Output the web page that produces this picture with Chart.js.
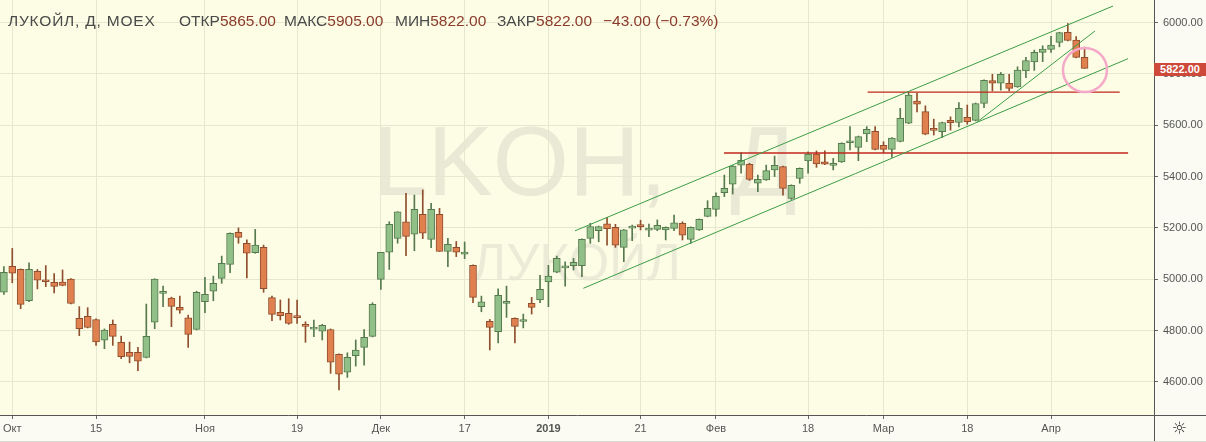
<!DOCTYPE html>
<html><head><meta charset="utf-8">
<script src="https://cdn.jsdelivr.net/npm/chart.js@4.4.1/dist/chart.umd.min.js"></script>
<style>
html,body{margin:0;padding:0;background:#fbfbf3;}
#wrap{position:relative;width:1206px;height:442px;overflow:hidden;background:#fbfbf3;font-family:"Liberation Sans",Arial,sans-serif;}
#plotbg{position:absolute;left:0;top:0;width:1154px;height:415px;background:#fdfde5;}
.wm{position:absolute;white-space:nowrap;font-family:"Liberation Sans",Arial,sans-serif;line-height:1;}
#wm1{left:373px;top:112px;font-size:98px;color:#e9e9d5;word-spacing:36px;}
#wm2{left:472px;top:236px;font-size:52px;color:#ebebd8;}
#c{position:absolute;left:0;top:0;}
.lg{position:absolute;top:12px;font-size:15.5px;line-height:18px;white-space:nowrap;color:#4a4a4a;}
.v{color:#8b3a2b;}
#tag{position:absolute;left:1154px;top:63px;width:52px;height:13px;background:#cd4a3b;color:#fff;font-size:11px;font-weight:bold;line-height:13px;text-align:center;}
.sep{position:absolute;background:#555;}
#gear{position:absolute;left:1172px;top:418px;font-size:17px;line-height:20px;color:#333;font-family:"DejaVu Sans",sans-serif;}
</style>
</head>
<body>
<div id="wrap">
  <div id="plotbg"></div>
  <div class="wm" id="wm1">LKOH, Д</div>
  <div class="wm" id="wm2">ЛУКОЙЛ</div>
  <canvas id="c" width="1206" height="442"></canvas>
  <div class="lg" style="left:8px;letter-spacing:0.8px">ЛУКОЙЛ, Д, MOEX</div>
  <div class="lg" style="left:179px">ОТКР<span class="v">5865.00</span></div>
  <div class="lg" style="left:284px">МАКС<span class="v">5905.00</span></div>
  <div class="lg" style="left:395px">МИН<span class="v">5822.00</span></div>
  <div class="lg" style="left:497px">ЗАКР<span class="v">5822.00</span></div>
  <div class="lg v" style="left:603px">−43.00 (−0.73%)</div>
  <div id="tag">5822.00</div>
  <div class="sep" style="left:1154px;top:415px;width:52px;height:1px"></div>
  <div class="sep" style="left:1154px;top:415px;width:1px;height:27px"></div>
  <div class="sep" style="left:0;top:441px;width:1206px;height:1px;background:#d8d8d0"></div>
  <div id="gear">☼</div>
</div>
<script>
// Daily OHLC, bar index 0 = 28 Sep 2018 ... 129 = 5 Apr 2019
const openP = [4949,5050,5038,4916,5031,4996,4988,4989,5000,4847,
4855,4843,4762,4824,4754,4715,4715,4695,4832,4945,
4926,4890,4849,4804,4912,4953,5003,5058,5183,5140,
5103,5124,4928,4871,4867,4855,4824,4805,4797,4804,
4707,4637,4702,4734,4777,4999,5105,5159,5224,5176,
5253,5155,5253,5108,5124,5098,5054,4893,4836,4795,
4906,4847,4835,4906,4919,4989,5027,5044,5053,5053,
5159,5189,5216,5202,5124,5199,5210,5191,5194,5192,
5198,5218,5155,5192,5245,5272,5337,5370,5445,5448,
5374,5387,5426,5439,5315,5393,5461,5488,5458,5444,
5457,5532,5514,5566,5576,5522,5506,5537,5608,5694,
5653,5588,5575,5619,5611,5631,5619,5685,5774,5764,
5764,5750,5812,5847,5884,5896,5923,5962,5932,5865];
const highP = [5049,5120,5040,5064,5038,5053,5022,5036,5002,4893,
4889,4845,4806,4841,4778,4755,4734,4903,5002,4973,
4930,4934,4860,4953,5007,5012,5090,5181,5200,5153,
5194,5133,4934,4919,4924,4919,4834,4841,4824,4806,
4709,4713,4763,4804,4908,5105,5224,5263,5335,5328,
5348,5296,5276,5159,5147,5145,5056,4934,4843,4962,
4973,4849,4864,4929,5015,5054,5090,5068,5081,5157,
5218,5207,5241,5214,5194,5211,5230,5215,5231,5204,
5250,5224,5204,5235,5306,5337,5406,5443,5493,5452,
5406,5445,5480,5441,5368,5434,5497,5500,5500,5471,
5532,5595,5558,5595,5595,5536,5552,5666,5727,5726,
5676,5624,5613,5633,5689,5679,5687,5777,5799,5806,
5799,5828,5865,5893,5910,5947,5963,5997,5946,5905];
const lowP = [4941,4986,4885,4912,4962,4971,4946,4974,4904,4780,
4810,4742,4729,4742,4690,4674,4643,4693,4807,4893,
4815,4867,4734,4802,4869,4916,4984,5025,5140,5005,
5101,4949,4838,4841,4824,4828,4754,4776,4763,4633,
4568,4617,4661,4665,4775,4960,5038,5140,5092,5111,
5158,5123,5108,5049,5088,5080,4908,4873,4724,4752,
4851,4752,4810,4864,4908,4893,5025,4973,5036,5010,
5140,5146,5133,5124,5068,5150,5192,5166,5189,5153,
5189,5153,5140,5190,5243,5246,5322,5332,5413,5385,
5341,5385,5400,5328,5311,5374,5413,5436,5446,5426,
5455,5504,5462,5536,5504,5493,5475,5535,5606,5652,
5563,5562,5552,5581,5594,5604,5617,5669,5734,5737,
5734,5748,5786,5814,5848,5884,5906,5929,5863,5822];
const closeP = [5027,5023,4902,5038,4996,4990,4972,4976,4906,4807,
4812,4755,4802,4777,4698,4699,4680,4777,5000,4950,
4894,4879,4785,4949,4941,4984,5062,5179,5163,5101,
5133,4963,4863,4858,4828,4850,4816,4808,4820,4676,
4630,4695,4724,4773,4902,5105,5214,5263,5167,5272,
5179,5272,5108,5136,5105,5106,4929,4912,4812,4937,
4914,4816,4838,4890,4960,5012,5081,5047,5066,5155,
5205,5205,5197,5133,5192,5202,5205,5193,5210,5202,
5220,5172,5202,5233,5276,5323,5354,5441,5463,5389,
5389,5423,5444,5354,5366,5432,5488,5449,5448,5452,
5530,5537,5556,5584,5506,5506,5550,5627,5718,5682,
5565,5580,5611,5610,5666,5614,5685,5775,5764,5799,
5744,5815,5852,5884,5897,5913,5961,5931,5865,5822];

// Time axis: bar index of each labelled date and its text
const xTickIdx    = [1, 11, 24, 35, 45, 55, 65, 76, 85, 96, 105, 115, 125];
const xTickLabels = ['Окт','15','Ноя','19','Дек','17','2019','21','Фев','18','Мар','18','Апр'];
const yTickValues = [4600, 4800, 5000, 5200, 5400, 5600, 5800, 6000];

// Drawings in data coordinates [barIndex, price]
const channelUpper = [[68.17, 5188.6], [132.4, 6065]];
const channelLower = [[69.17, 4964.5], [134.19, 5859.7]];
const steepLine    = [[116.13, 5611.7], [130.25, 5967.7]];
const levelHigh    = [[103.1, 5729], [133.2, 5729]];
const levelLow     = [[85.96, 5492], [134.2, 5492]];
const markPoint    = [[129.05, 5815.6]];

const UP_FILL = '#90bf87', UP_LINE = '#567a4e';
const DN_FILL = '#e0804f', DN_LINE = '#8f4e2d';
const isUp = i => closeP[i] >= openP[i];
const idx = openP.map((_, i) => i);
const toXY = arr => arr.map(p => ({x: p[0], y: p[1]}));

const lineDs = (pts, color, w) => ({
  type: 'line', data: toXY(pts), borderColor: color, borderWidth: w,
  pointRadius: 0, fill: false, order: 1, tension: 0
});
const noPad = s => { s.paddingTop = 0; s.paddingBottom = 0; s.paddingLeft = 0; s.paddingRight = 0; };

new Chart(document.getElementById('c'), {
  type: 'bar',
  data: {
    datasets: [
      {
        label: 'wicks', grouped: false, order: 5,
        data: idx.map(i => ({x: i, y: [lowP[i], highP[i]]})),
        backgroundColor: idx.map(i => isUp(i) ? UP_LINE : DN_LINE),
        barThickness: 1, borderWidth: 0
      },
      {
        label: 'bodies', grouped: false, order: 4,
        data: idx.map(i => ({x: i, y: [openP[i], closeP[i]]})),
        backgroundColor: idx.map(i => isUp(i) ? UP_FILL : DN_FILL),
        borderColor: idx.map(i => isUp(i) ? UP_LINE : DN_LINE),
        borderWidth: 1, borderSkipped: false, barThickness: 7, minBarLength: 2
      },
      lineDs(channelUpper, '#3d9b47', 1),
      lineDs(channelLower, '#3d9b47', 1),
      lineDs(steepLine, '#3d9b47', 1),
      lineDs(levelHigh, '#c1271d', 1.3),
      lineDs(levelLow, '#c1271d', 1.3),
      {
        type: 'line', data: toXY(markPoint), showLine: false, order: 0,
        pointRadius: 22, pointBorderWidth: 2.5, pointBorderColor: '#f4a9c8',
        pointBackgroundColor: 'rgba(0,0,0,0)'
      }
    ]
  },
  options: {
    responsive: false, animation: false, events: [],
    layout: {padding: 0, autoPadding: false},
    plugins: {legend: {display: false}, tooltip: {enabled: false}},
    scales: {
      x: {
        type: 'linear', position: 'bottom', offset: false,
        min: -0.4656, max: 137.29,
        afterBuildTicks: s => { s.ticks = xTickIdx.map(v => ({value: v})); },
        afterFit: s => { s.height = 27; noPad(s); },
        grid: {color: '#e5e8cf', tickColor: '#666', tickLength: 4, offset: false},
        border: {color: '#555', width: 1},
        ticks: {
          autoSkip: false, maxRotation: 0, padding: 3, color: '#555',
          font: ctx => ({family: 'Liberation Sans', size: 11,
            weight: (ctx.tick && ctx.tick.value === 65) ? 'bold' : 'normal'}),
          callback: v => { const k = xTickIdx.indexOf(v); return k >= 0 ? xTickLabels[k] : ''; }
        }
      },
      y: {
        type: 'linear', position: 'right',
        min: 4470.5, max: 6088.5,
        afterBuildTicks: s => { s.ticks = yTickValues.map(v => ({value: v})); },
        afterFit: s => { s.width = 52; noPad(s); },
        grid: {color: '#e5e8cf', tickColor: '#666', tickLength: 4},
        border: {color: '#555', width: 1},
        ticks: {
          padding: 5, color: '#555',
          font: {family: 'Liberation Sans', size: 11},
          callback: v => Number(v).toFixed(2)
        }
      }
    }
  }
});
</script>
</body></html>
